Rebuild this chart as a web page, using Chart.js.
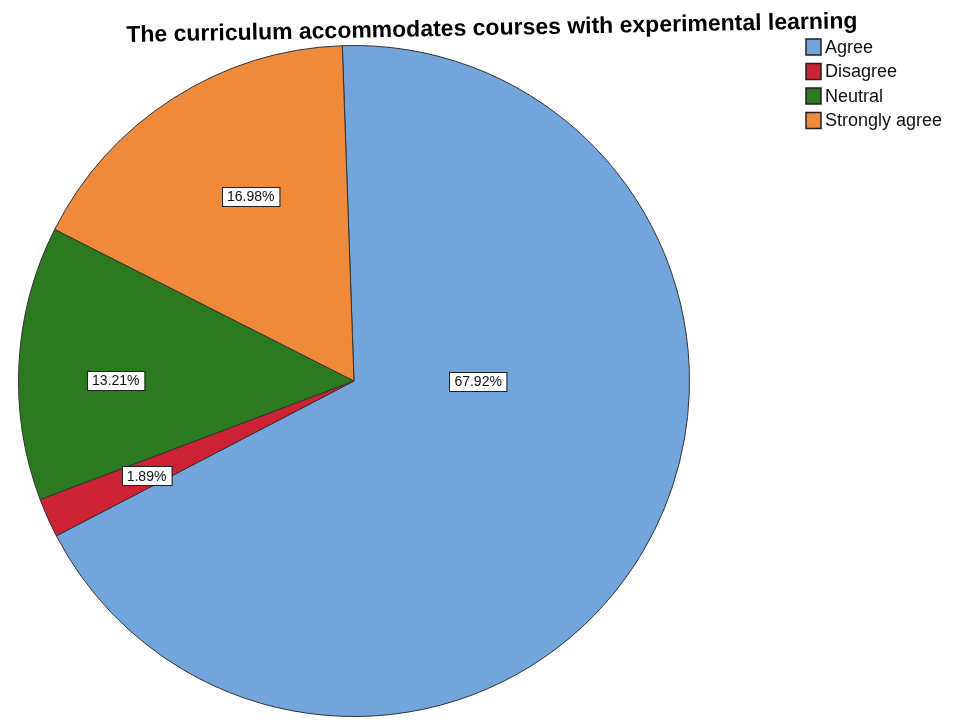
<!DOCTYPE html>
<html>
<head>
<meta charset="utf-8">
<script src="https://cdn.jsdelivr.net/npm/chart.js@4"></script>
<style>
  html, body { margin: 0; padding: 0; background: #fff; }
  #wrap { width: 955px; height: 721px; position: relative; }
</style>
</head>
<body>
<div id="wrap"><canvas id="chart" width="955" height="721"></canvas></div>
<script>
const titleText = "The curriculum accommodates courses with experimental learning";
const categories = ["Agree", "Disagree", "Neutral", "Strongly agree"];
const percentages = [67.92, 1.89, 13.21, 16.98];
const sliceColors = ["#72a5dc", "#cc2233", "#2b7a1f", "#ee8a3a"];
const percentLabels = ["67.92%", "1.89%", "13.21%", "16.98%"];
// where each label sits: angle offset from slice middle (deg) and fraction of radius
const labelAngleShift = [-30, -0.5, -3, 3.3];
const labelRadiusFrac = [0.37, 0.68, 0.71, 0.63];

const overlayPlugin = {
  id: "overlay",
  afterDraw(chart) {
    const ctx = chart.ctx;
    const meta = chart.getDatasetMeta(0);

    // percent boxes
    ctx.save();
    ctx.font = "14px 'Liberation Sans', Arial, sans-serif";
    ctx.textAlign = "center";
    ctx.textBaseline = "middle";
    meta.data.forEach((arc, i) => {
      const p = arc.getProps(["x", "y", "startAngle", "endAngle", "outerRadius"], true);
      const mid = (p.startAngle + p.endAngle) / 2 + labelAngleShift[i] * Math.PI / 180;
      const r = p.outerRadius * labelRadiusFrac[i];
      const x = p.x + Math.cos(mid) * r;
      const y = p.y + Math.sin(mid) * r;
      const txt = percentLabels[i];
      const w = ctx.measureText(txt).width + 10;
      const h = 19;
      ctx.fillStyle = "#fff";
      ctx.fillRect(Math.round(x - w / 2), Math.round(y - h / 2), w, h);
      ctx.strokeStyle = "#222";
      ctx.lineWidth = 1;
      ctx.strokeRect(Math.round(x - w / 2) + 0.5, Math.round(y - h / 2) + 0.5, w, h);
      ctx.fillStyle = "#111";
      ctx.fillText(txt, x, y + 1);
    });

    // title (the scan is a little tilted)
    ctx.save();
    ctx.translate(492, 35);
    ctx.rotate(-1.1 * Math.PI / 180);
    ctx.font = "bold 23px 'Liberation Sans', Arial, sans-serif";
    ctx.fillStyle = "#000";
    ctx.textAlign = "center";
    ctx.textBaseline = "alphabetic";
    ctx.fillText(titleText, 0, 0);
    ctx.restore();

    // legend
    ctx.font = "18px 'Liberation Sans', Arial, sans-serif";
    ctx.textAlign = "left";
    ctx.textBaseline = "middle";
    categories.forEach((c, i) => {
      const y = 47 + i * 24.5;
      ctx.fillStyle = sliceColors[i];
      ctx.fillRect(806, y - 8, 15, 16);
      ctx.strokeStyle = "#222";
      ctx.lineWidth = 1.5;
      ctx.strokeRect(806, y - 8, 15, 16);
      ctx.fillStyle = "#111";
      ctx.fillText(c, 825, y + 1);
    });
    ctx.restore();
  }
};

new Chart(document.getElementById("chart"), {
  type: "pie",
  data: {
    labels: categories,
    datasets: [{
      data: percentages,
      backgroundColor: sliceColors,
      borderColor: "#333",
      borderWidth: 1
    }]
  },
  options: {
    responsive: false,
    animation: false,
    rotation: -2,
    layout: { padding: { left: 18, top: 45, right: 265, bottom: 4 } },
    plugins: {
      legend: { display: false },
      title: { display: false },
      tooltip: { enabled: false }
    }
  },
  plugins: [overlayPlugin]
});
</script>
</body>
</html>
